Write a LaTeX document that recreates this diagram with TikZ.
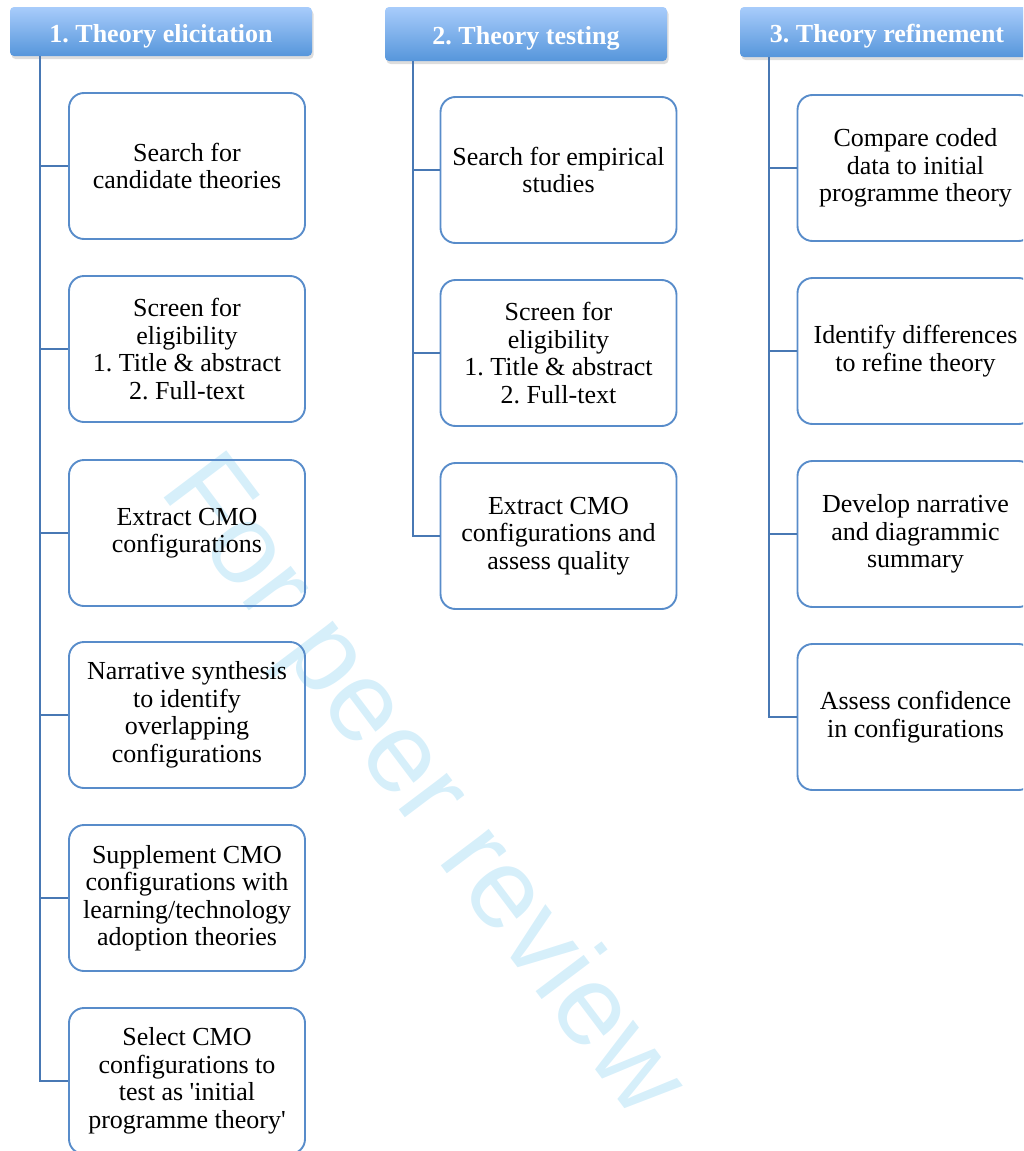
\documentclass[tikz,border=0pt]{standalone}
\usepackage{fontspec}
\setmainfont{Liberation Serif}
\newfontfamily\wmfont{Liberation Sans}
\usetikzlibrary{shadows}
\definecolor{boxline}{RGB}{88,140,202}
\definecolor{connline}{RGB}{72,120,180}
\definecolor{hdtop}{RGB}{168,204,251}
\definecolor{hdbot}{RGB}{86,150,219}
\definecolor{wmcol}{RGB}{214,239,250}
\tikzset{
  stepbox/.style={draw=boxline, line width=1.9pt, rounded corners=15pt,
    minimum width=236pt, minimum height=146pt, inner sep=0pt, align=center,
    font=\frenchspacing\fontsize{26}{27.5}\selectfont},
  hdbox/.style={rounded corners=4pt, top color=hdtop, bottom color=hdbot,
    draw=none, inner sep=0pt, text=white, text height=21pt, text depth=0pt,
    font=\frenchspacing\fontsize{26}{28}\selectfont\bfseries,
    drop shadow={shadow xshift=1.5pt, shadow yshift=-3pt, opacity=0.22, fill=black!60}},
  conn/.style={draw=connline, line width=1.8pt}
}
\begin{document}
\begin{tikzpicture}[x=1pt,y=-1pt]
\useasboundingbox (0,0) rectangle (1023,1151);
\clip (0,0) rectangle (1023,1151);
% watermark
\node[anchor=base west, rotate=-53, inner sep=0pt, text=wmcol,
  font=\wmfont\fontsize{114}{114}\selectfont] (wm) at (158,490) {For peer review};
% headers
\node[hdbox, minimum width=302pt, minimum height=49pt] (h1) at (161,31.5) {1. Theory elicitation};
\node[hdbox, minimum width=282pt, minimum height=54pt] (h2) at (526,34) {2. Theory testing};
\node[hdbox, minimum width=294pt, minimum height=50pt] (h3) at (887,32) {3. Theory refinement};
% column 1
\node[stepbox] (a1) at (187,166) {Search for\\candidate theories};
\node[stepbox] (a2) at (187,349) {Screen for\\eligibility\\1. Title \& abstract\\2. Full-text};
\node[stepbox] (a3) at (187,533) {Extract CMO\\configurations};
\node[stepbox] (a4) at (187,715) {Narrative synthesis\\to identify\\overlapping\\configurations};
\node[stepbox] (a5) at (187,898) {Supplement CMO\\configurations with\\learning/technology\\adoption theories};
\node[stepbox] (a6) at (187,1081) {Select CMO\\configurations to\\test as \textquotesingle initial\\programme theory\textquotesingle};
% column 2
\node[stepbox] (b1) at (558.5,170) {Search for empirical\\studies};
\node[stepbox] (b2) at (558.5,353) {Screen for\\eligibility\\1. Title \& abstract\\2. Full-text};
\node[stepbox] (b3) at (558.5,536) {Extract CMO\\configurations and\\assess quality};
% column 3
\node[stepbox] (c1) at (915.5,168) {Compare coded\\data to initial\\programme theory};
\node[stepbox] (c2) at (915.5,351) {Identify differences\\to refine theory};
\node[stepbox] (c3) at (915.5,534) {Develop narrative\\and diagrammic\\summary};
\node[stepbox] (c4) at (915.5,717) {Assess confidence\\in configurations};
% connectors
\foreach \n in {a1,a2,a3,a4,a5,a6}
  \draw[conn] ([xshift=30pt]h1.south west) |- (\n.west);
\foreach \n in {b1,b2,b3}
  \draw[conn] ([xshift=28pt]h2.south west) |- (\n.west);
\foreach \n in {c1,c2,c3,c4}
  \draw[conn] ([xshift=29pt]h3.south west) |- (\n.west);
\end{tikzpicture}
\end{document}
